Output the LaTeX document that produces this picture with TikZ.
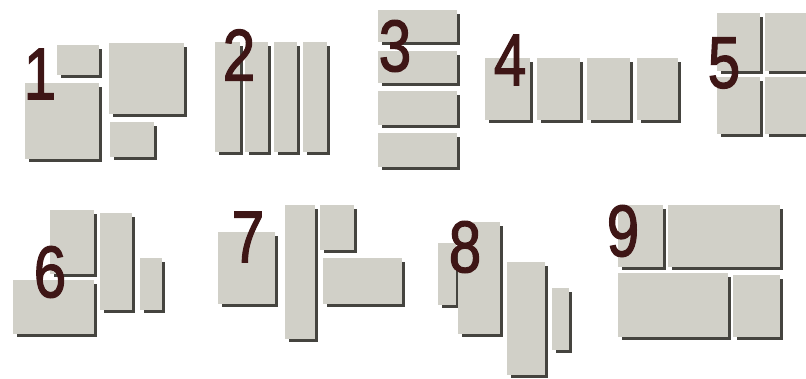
\documentclass[tikz,border=0pt]{standalone}
\usepackage{fontspec}
\usepackage{graphicx}
\setmainfont{Liberation Sans}
\newfontfamily\numfont[FakeBold=1.8]{Liberation Sans}
\definecolor{blockfill}{HTML}{D1D0C8}
\definecolor{blockshadow}{HTML}{45443F}
\definecolor{numcol}{HTML}{3E1616}
\newcommand\blk[4]{%
  \fill[blockshadow] ({#1+4},{#2+4}) rectangle (#3,#4);
  \fill[blockfill] (#1,#2) rectangle ({#3-3},{#4-3});}
\newcommand\dig[1]{\scalebox{0.8}[1]{#1}}
\tikzset{num/.style={font=\numfont\fontsize{73}{73}\selectfont, text=numcol, inner sep=0pt, anchor=center}}
\begin{document}
\begin{tikzpicture}[x=1pt,y=-1pt]
\useasboundingbox (0,0) rectangle (806,379);
\fill[white] (0,0) rectangle (806,379);
% group 1
\blk{57}{45}{102}{78}
\blk{109}{43}{187}{117}
\blk{25}{83}{102}{162}
\blk{110}{122}{157}{160}
% group 2
\blk{215}{42}{243}{155}
\blk{245}{42}{271}{155}
\blk{274}{42}{300}{155}
\blk{303}{42}{330}{155}
% group 3
\blk{378}{10}{460}{45}
\blk{378}{51}{460}{86}
\blk{378}{91}{460}{128}
\blk{378}{133}{460}{170}
% group 4
\blk{485}{58}{533}{123}
\blk{537}{58}{583}{123}
\blk{587}{58}{633}{123}
\blk{637}{58}{681}{123}
% group 5
\blk{717}{13}{763}{74}
\blk{765}{13}{810}{74}
\blk{717}{77}{763}{137}
\blk{765}{77}{810}{137}
% group 6
\blk{50}{210}{97}{277}
\blk{13}{280}{97}{337}
\blk{100}{213}{135}{313}
\blk{140}{258}{165}{313}
% group 7
\blk{218}{232}{278}{307}
\blk{285}{205}{318}{342}
\blk{320}{205}{357}{253}
\blk{323}{258}{405}{307}
% group 8
\blk{438}{243}{459}{308}
\blk{458}{222}{503}{337}
\blk{507}{262}{548}{378}
\blk{552}{288}{572}{353}
% group 9
\blk{618}{205}{666}{270}
\blk{668}{205}{783}{270}
\blk{618}{273}{731}{340}
\blk{733}{275}{783}{340}
% numbers
\node[num] (n1) at (40,74) {\dig{1}};
\node[num] (n2) at (239,55) {\dig{2}};
\node[num] (n3) at (395,46) {\dig{3}};
\node[num] (n4) at (510,60) {\dig{4}};
\node[num] (n5) at (724,63) {\dig{5}};
\node[num] (n6) at (50,272) {\dig{6}};
\node[num] (n7) at (248,237) {\dig{7}};
\node[num] (n8) at (465,247) {\dig{8}};
\node[num] (n9) at (623,231) {\dig{9}};
\end{tikzpicture}
\end{document}
